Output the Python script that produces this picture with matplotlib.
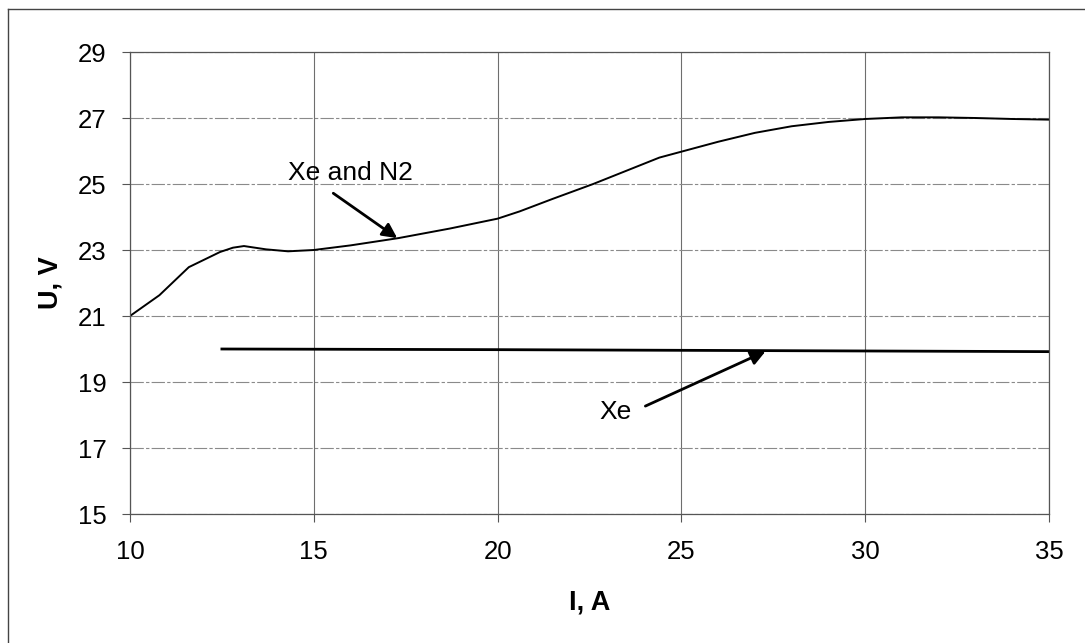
import matplotlib
matplotlib.use("Agg")
import matplotlib.pyplot as plt
from matplotlib.lines import Line2D

# Xe and N2 curve
mix_i = [10.0, 10.8, 11.6, 12.45, 12.8, 13.1, 13.7, 14.3, 15.0, 16.0, 17.3, 18.7,
         20.0, 20.6, 21.5, 22.6, 23.5, 24.4, 25.0, 26.0, 27.0, 28.0, 29.0, 30.0,
         31.0, 32.0, 33.0, 34.0, 35.0]
mix_u = [21.0, 21.63, 22.48, 22.94, 23.07, 23.12, 23.02, 22.96, 23.0, 23.14, 23.36, 23.65,
         23.95, 24.17, 24.55, 25.0, 25.4, 25.8, 25.98, 26.28, 26.55, 26.75, 26.88, 26.97,
         27.02, 27.02, 27.0, 26.97, 26.95]

# pure Xe
xe_i = [12.5, 20.0, 27.5, 35.0]
xe_u = [20.0, 19.98, 19.95, 19.92]

x_ticks = [10, 15, 20, 25, 30, 35]
y_ticks = [15, 17, 19, 21, 23, 25, 27, 29]

plt.rcParams["font.family"] = ["Liberation Sans", "DejaVu Sans"]
W, H = 1085, 643

fig = plt.figure(figsize=(W / 100, H / 100), dpi=100)
ax = fig.add_axes([130 / W, 1 - 514 / H, (1049 - 130) / W, (514 - 52) / H])

ax.plot(mix_i, mix_u, color="black", linewidth=1.4)
ax.plot(xe_i, xe_u, color="black", linewidth=2.0)

ax.set_xlim(10, 35)
ax.set_ylim(15, 29)
ax.set_xticks(x_ticks)
ax.set_yticks(y_ticks)
ax.grid(True, axis="x", color="#6e6e6e", linewidth=0.8)
ax.grid(True, axis="y", color="#8a8a8a", linewidth=0.8, linestyle=(0, (12, 2, 3, 2)))
ax.set_axisbelow(True)
for side in ["left", "right", "top", "bottom"]:
    ax.spines[side].set_color("#555555")
    ax.spines[side].set_linewidth(0.9)
ax.tick_params(direction="out", length=6, width=0.8, color="#555555", labelsize=18.5)
ax.tick_params(axis="x", pad=13)
ax.tick_params(axis="y", pad=11)

fig.text(590 / W, 1 - 603 / H, "I, A", ha="center", va="center",
         fontsize=19.5, fontweight="bold")
fig.text(50 / W, 1 - 283 / H, "U, V", ha="center", va="center", rotation=90,
         fontsize=19.5, fontweight="bold")

arrow = dict(arrowstyle="-|>", color="black", lw=2.0, mutation_scale=22,
             shrinkA=0, shrinkB=0)
ax.annotate("", xy=(17.27, 23.36), xytext=(15.53, 24.72), arrowprops=arrow)
ax.text(15.99, 25.33, "Xe and N2", ha="center", va="center", fontsize=19)
ax.annotate("", xy=(27.29, 19.93), xytext=(24.02, 18.27), arrowprops=arrow)
ax.text(23.21, 18.09, "Xe", ha="center", va="center", fontsize=19)

# scan frame, only left and top edges show
fig.add_artist(Line2D([8 / W, 8 / W], [0, 1 - 9 / H], color="#444444", linewidth=1.0))
fig.add_artist(Line2D([8 / W, 1], [1 - 9 / H, 1 - 9 / H], color="#444444", linewidth=1.0))

fig.savefig("out.png", dpi=100)
